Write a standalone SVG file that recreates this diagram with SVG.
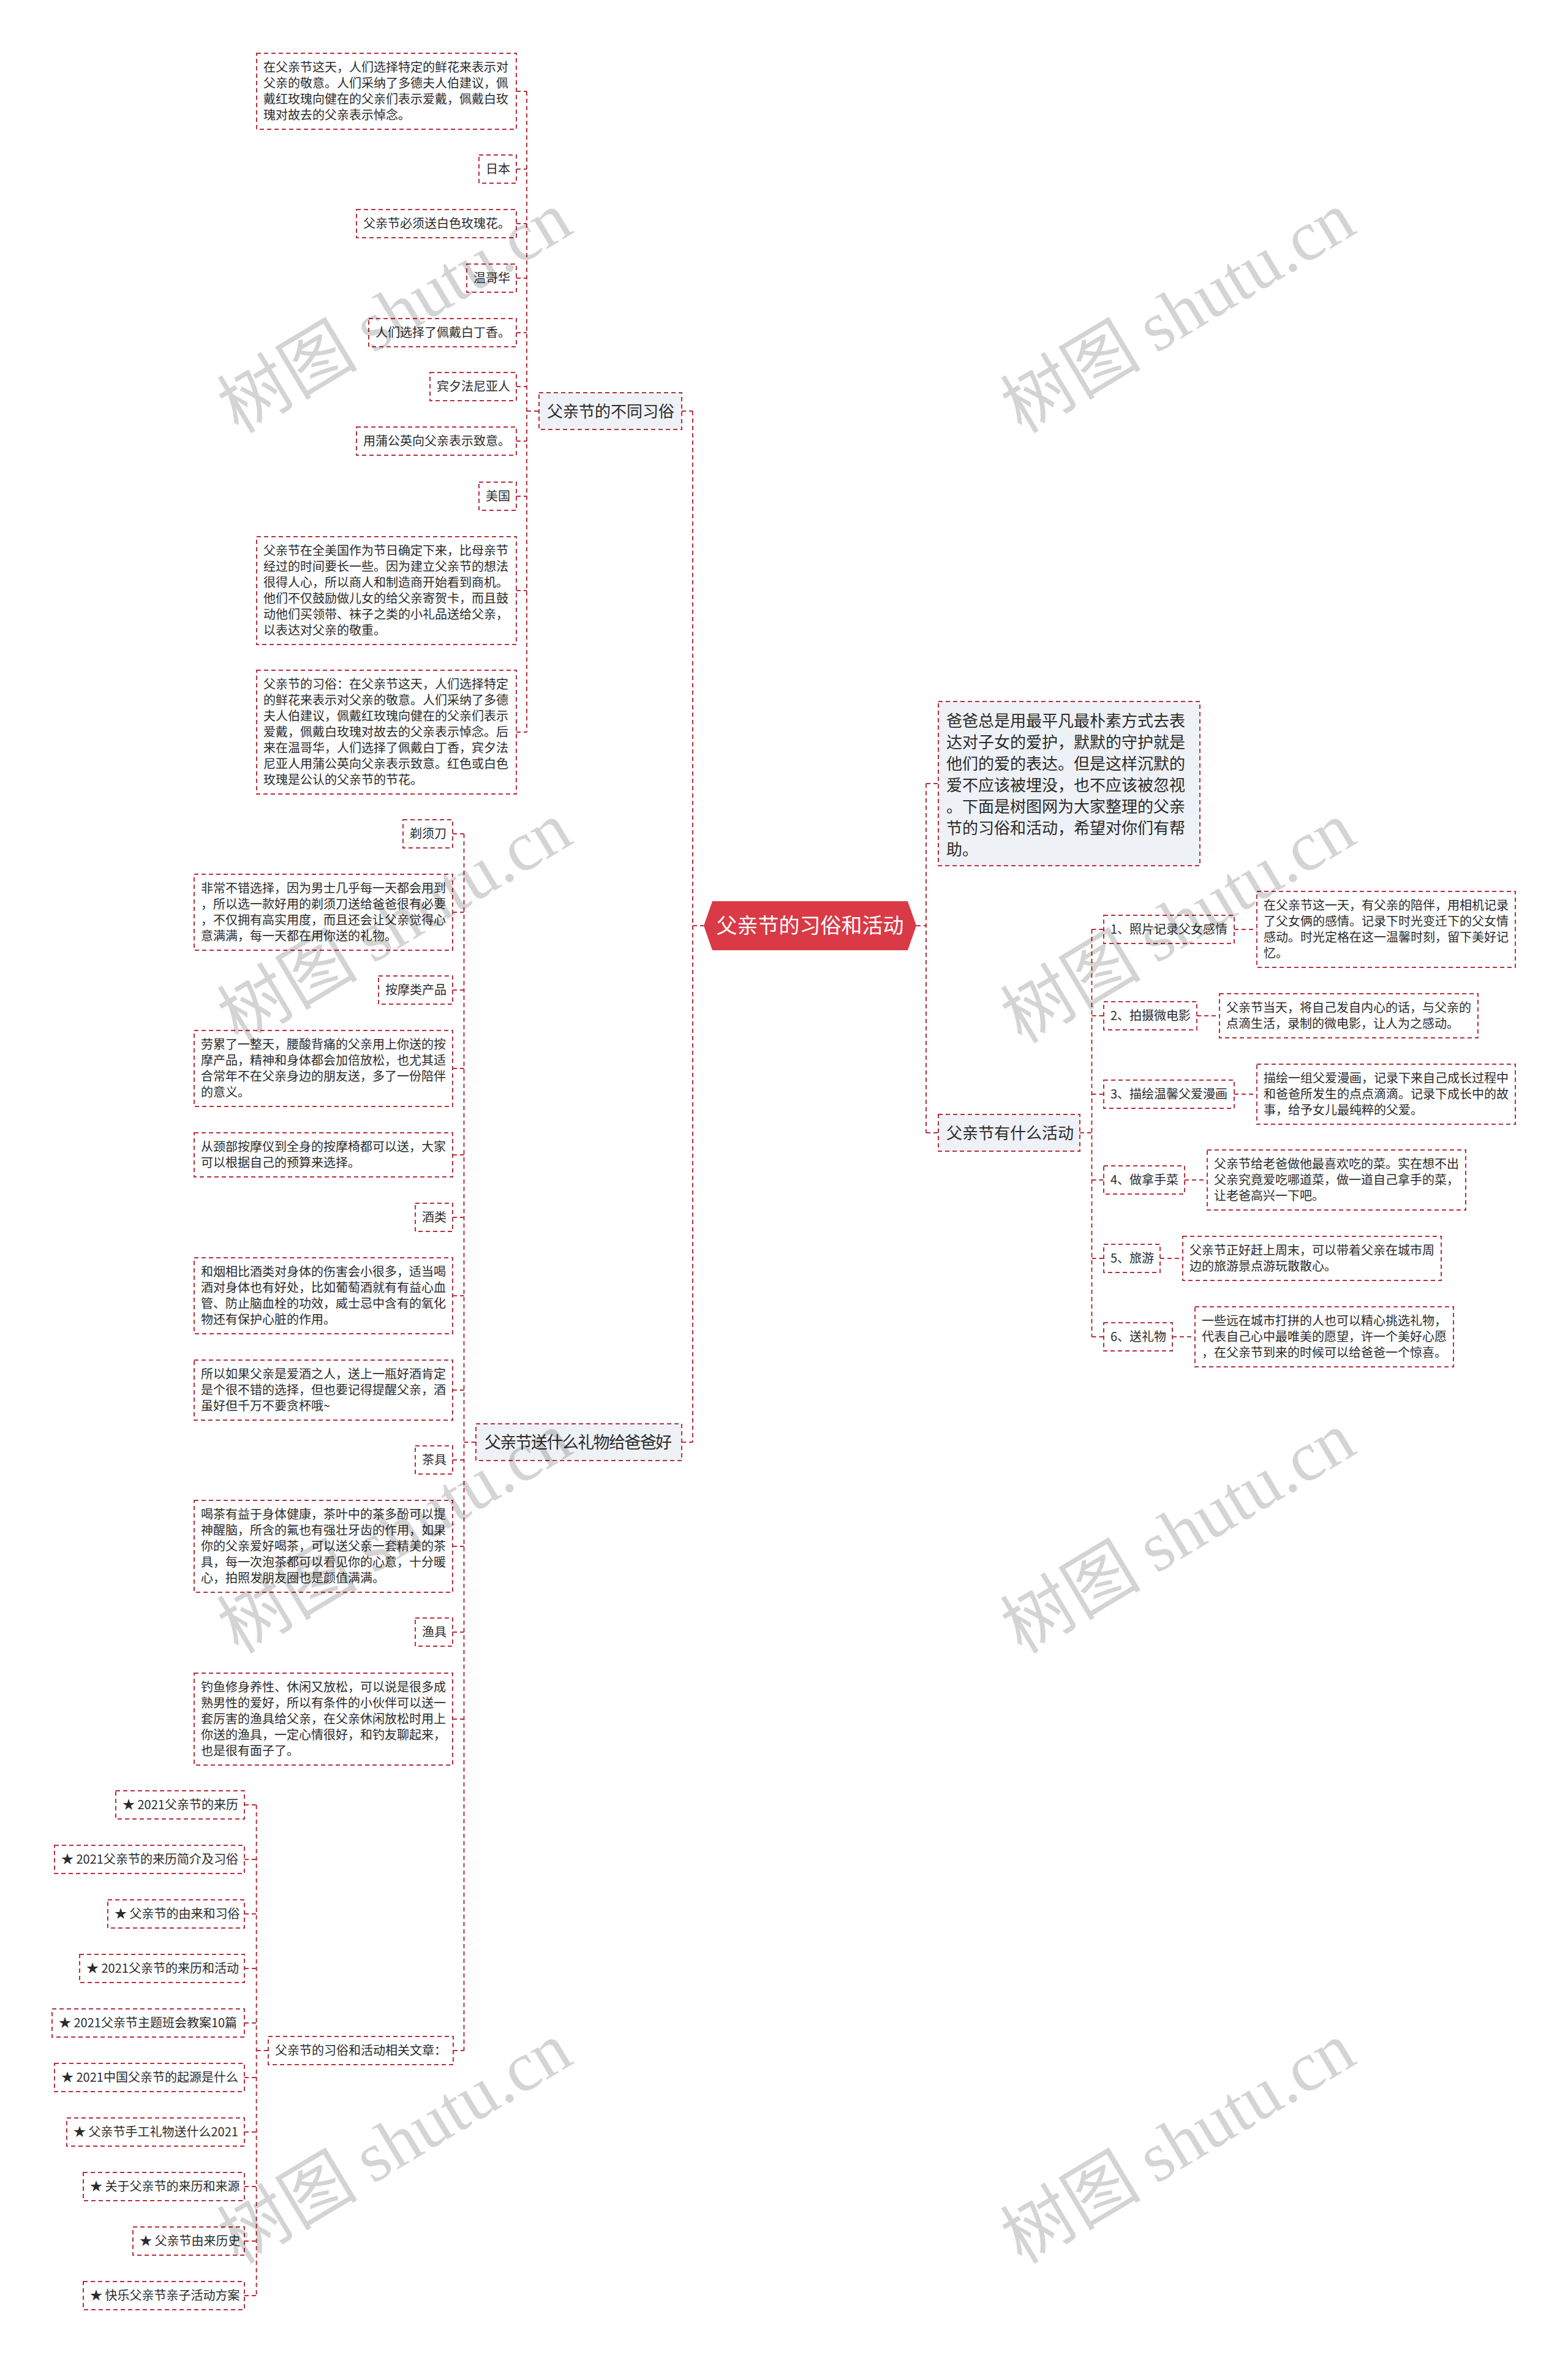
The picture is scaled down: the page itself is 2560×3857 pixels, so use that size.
<svg xmlns="http://www.w3.org/2000/svg" width="2560" height="3857" viewBox="0 0 2560 3857">
<style>
.n{fill:#fff;stroke:#b4313c;stroke-width:2;stroke-dasharray:7 5}
.b{fill:#eef1f5;stroke:#b4313c;stroke-width:2;stroke-dasharray:7 5}
.c{fill:none;stroke:#b4313c;stroke-width:2;stroke-dasharray:7 5}
text{font-family:"Noto Sans CJK SC","Noto Sans",sans-serif;fill:#2b2b2b}
.t{font-size:20px}
.bt{font-size:26px}
.wm text{fill:#000;fill-opacity:0.17;font-size:115px}
</style>
<rect width="2560" height="3857" fill="#fff"/>
<g id="connectors">
<path class="c" d="M843 149H860M843 276H860M843 365H860M843 454H860M843 543H860M843 631H860M843 720H860M843 810H860M843 964H860M843 1195H860M860 149V1195M860 671H880"/>
<path class="c" d="M739 1361H757.5M739 1489H757.5M739 1616H757.5M739 1744H757.5M739 1885H757.5M739 1987H757.5M739 2115H757.5M739 2269H757.5M739 2383H757.5M739 2524H757.5M739 2664H757.5M739 2806H757.5M740 3347H757.5M757.5 1361V3347M757.5 2354H777"/>
<path class="c" d="M399 2946H418.7M399 3035H418.7M399 3124H418.7M399 3213H418.7M399 3302H418.7M399 3391H418.7M399 3480H418.7M399 3569H418.7M399 3658H418.7M399 3747H418.7M418.7 2946V3747M418.7 3347H438"/>
<path class="c" d="M1113 671H1131M1113 2354H1131M1131 671V2354M1131 1511H1149"/>
<path class="c" d="M1496 1511H1512M1512 1279V1849M1512 1279H1532M1512 1849H1532"/>
<path class="c" d="M1763 1849H1782.5M1782.5 1517V2182M1782.5 1517H1802M1782.5 1658H1802M1782.5 1786H1802M1782.5 1926H1802M1782.5 2054H1802M1782.5 2182H1802"/>
<path class="c" d="M2015 1517H2052M1954 1658H1991M2015 1786H2052M1934 1926H1971M1894 2054H1931M1914 2182H1951"/>
</g>
<g id="root">
<polygon points="1149,1511 1163,1471 1482,1471 1496,1511 1482,1551 1163,1551" fill="#d93a45"/>
<text x="1322.5" y="1523" text-anchor="middle" style="font-size:34px;fill:#fff">父亲节的习俗和活动</text>
</g>
<g id="branch-customs">
<rect class="b" x="880" y="641" width="233" height="60"/>
<text class="bt" x="893" y="680.5">父亲节的不同习俗</text>
</g>
<g id="branch-gifts">
<rect class="b" x="777" y="2324" width="336" height="60"/>
<text x="791" y="2364" style="font-size:27px" textLength="306" lengthAdjust="spacing">父亲节送什么礼物给爸爸好</text>
</g>
<g id="intro">
<rect class="b" x="1532" y="1145" width="427" height="268"/>
<text class="bt"><tspan x="1545" y="1186">爸爸总是用最平凡最朴素方式去表</tspan><tspan x="1545" y="1221">达对子女的爱护，默默的守护就是</tspan><tspan x="1545" y="1256">他们的爱的表达。但是这样沉默的</tspan><tspan x="1545" y="1291">爱不应该被埋没，也不应该被忽视</tspan><tspan x="1545" y="1326">。下面是树图网为大家整理的父亲</tspan><tspan x="1545" y="1361">节的习俗和活动，希望对你们有帮</tspan><tspan x="1545" y="1396">助。</tspan></text>
</g>
<g id="branch-activities">
<rect class="b" x="1532" y="1819" width="231" height="60"/>
<text class="bt" x="1545" y="1858.5">父亲节有什么活动</text>
</g>
<g id="c-a1"><rect class="n" x="419" y="87" width="424" height="124"/>
<text class="t"><tspan x="430" y="117">在父亲节这天，人们选择特定的鲜花来表示对</tspan><tspan x="430" y="143">父亲的敬意。人们采纳了多德夫人伯建议，佩</tspan><tspan x="430" y="169">戴红玫瑰向健在的父亲们表示爱戴，佩戴白玫</tspan><tspan x="430" y="195">瑰对故去的父亲表示悼念。</tspan></text></g>
<g id="c-japan"><rect class="n" x="782" y="253" width="61" height="46"/><text class="t" x="793" y="283">日本</text></g>
<g id="c-rose"><rect class="n" x="582" y="342" width="261" height="46"/><text class="t" x="593" y="372">父亲节必须送白色玫瑰花。</text></g>
<g id="c-van"><rect class="n" x="762" y="431" width="81" height="46"/><text class="t" x="773" y="461">温哥华</text></g>
<g id="c-lilac"><rect class="n" x="602" y="520" width="241" height="46"/><text class="t" x="613" y="550">人们选择了佩戴白丁香。</text></g>
<g id="c-penn"><rect class="n" x="702" y="608" width="141" height="46"/><text class="t" x="713" y="638">宾夕法尼亚人</text></g>
<g id="c-dand"><rect class="n" x="582" y="697" width="261" height="46"/><text class="t" x="593" y="727">用蒲公英向父亲表示致意。</text></g>
<g id="c-usa"><rect class="n" x="782" y="787" width="61" height="46"/><text class="t" x="793" y="817">美国</text></g>
<g id="c-a2"><rect class="n" x="419" y="876" width="424" height="176"/>
<text class="t"><tspan x="430" y="906">父亲节在全美国作为节日确定下来，比母亲节</tspan><tspan x="430" y="932">经过的时间要长一些。因为建立父亲节的想法</tspan><tspan x="430" y="958">很得人心，所以商人和制造商开始看到商机。</tspan><tspan x="430" y="984">他们不仅鼓励做儿女的给父亲寄贺卡，而且鼓</tspan><tspan x="430" y="1010">动他们买领带、袜子之类的小礼品送给父亲，</tspan><tspan x="430" y="1036">以表达对父亲的敬重。</tspan></text></g>
<g id="c-a3"><rect class="n" x="419" y="1094" width="424" height="202"/>
<text class="t"><tspan x="430" y="1124">父亲节的习俗：在父亲节这天，人们选择特定</tspan><tspan x="430" y="1150">的鲜花来表示对父亲的敬意。人们采纳了多德</tspan><tspan x="430" y="1176">夫人伯建议，佩戴红玫瑰向健在的父亲们表示</tspan><tspan x="430" y="1202">爱戴，佩戴白玫瑰对故去的父亲表示悼念。后</tspan><tspan x="430" y="1228">来在温哥华，人们选择了佩戴白丁香，宾夕法</tspan><tspan x="430" y="1254">尼亚人用蒲公英向父亲表示致意。红色或白色</tspan><tspan x="430" y="1280">玫瑰是公认的父亲节的节花。</tspan></text></g>
<g id="g-razor"><rect class="n" x="658" y="1338" width="81" height="46"/><text class="t" x="669" y="1368">剃须刀</text></g>
<g id="g-b1"><rect class="n" x="317" y="1427" width="422" height="124"/>
<text class="t"><tspan x="328" y="1457">非常不错选择，因为男士几乎每一天都会用到</tspan><tspan x="328" y="1483">，所以选一款好用的剃须刀送给爸爸很有必要</tspan><tspan x="328" y="1509">，不仅拥有高实用度，而且还会让父亲觉得心</tspan><tspan x="328" y="1535">意满满，每一天都在用你送的礼物。</tspan></text></g>
<g id="g-massage"><rect class="n" x="618" y="1593" width="121" height="46"/><text class="t" x="629" y="1623">按摩类产品</text></g>
<g id="g-b2"><rect class="n" x="317" y="1682" width="422" height="124"/>
<text class="t"><tspan x="328" y="1712">劳累了一整天，腰酸背痛的父亲用上你送的按</tspan><tspan x="328" y="1738">摩产品，精神和身体都会加倍放松，也尤其适</tspan><tspan x="328" y="1764">合常年不在父亲身边的朋友送，多了一份陪伴</tspan><tspan x="328" y="1790">的意义。</tspan></text></g>
<g id="g-b3"><rect class="n" x="317" y="1849" width="422" height="72"/>
<text class="t"><tspan x="328" y="1879">从颈部按摩仪到全身的按摩椅都可以送，大家</tspan><tspan x="328" y="1905">可以根据自己的预算来选择。</tspan></text></g>
<g id="g-wine"><rect class="n" x="678" y="1964" width="61" height="46"/><text class="t" x="689" y="1994">酒类</text></g>
<g id="g-b4"><rect class="n" x="317" y="2053" width="422" height="124"/>
<text class="t"><tspan x="328" y="2083">和烟相比酒类对身体的伤害会小很多，适当喝</tspan><tspan x="328" y="2109">酒对身体也有好处，比如葡萄酒就有有益心血</tspan><tspan x="328" y="2135">管、防止脑血栓的功效，威士忌中含有的氧化</tspan><tspan x="328" y="2161">物还有保护心脏的作用。</tspan></text></g>
<g id="g-b5"><rect class="n" x="317" y="2220" width="422" height="98"/>
<text class="t"><tspan x="328" y="2250">所以如果父亲是爱酒之人，送上一瓶好酒肯定</tspan><tspan x="328" y="2276">是个很不错的选择，但也要记得提醒父亲，酒</tspan><tspan x="328" y="2302">虽好但千万不要贪杯哦~</tspan></text></g>
<g id="g-tea"><rect class="n" x="678" y="2360" width="61" height="46"/><text class="t" x="689" y="2390">茶具</text></g>
<g id="g-b6"><rect class="n" x="317" y="2449" width="422" height="150"/>
<text class="t"><tspan x="328" y="2479">喝茶有益于身体健康，茶叶中的茶多酚可以提</tspan><tspan x="328" y="2505">神醒脑，所含的氟也有强壮牙齿的作用，如果</tspan><tspan x="328" y="2531">你的父亲爱好喝茶，可以送父亲一套精美的茶</tspan><tspan x="328" y="2557">具，每一次泡茶都可以看见你的心意，十分暖</tspan><tspan x="328" y="2583">心，拍照发朋友圈也是颜值满满。</tspan></text></g>
<g id="g-fish"><rect class="n" x="678" y="2641" width="61" height="46"/><text class="t" x="689" y="2671">渔具</text></g>
<g id="g-b7"><rect class="n" x="317" y="2731" width="422" height="150"/>
<text class="t"><tspan x="328" y="2761">钓鱼修身养性、休闲又放松，可以说是很多成</tspan><tspan x="328" y="2787">熟男性的爱好，所以有条件的小伙伴可以送一</tspan><tspan x="328" y="2813">套厉害的渔具给父亲，在父亲休闲放松时用上</tspan><tspan x="328" y="2839">你送的渔具，一定心情很好，和钓友聊起来，</tspan><tspan x="328" y="2865">也是很有面子了。</tspan></text></g>
<g id="g-related"><rect class="n" x="438" y="3324" width="302" height="46"/><text class="t" x="449" y="3354">父亲节的习俗和活动相关文章：</text></g>
<g id="r1"><rect class="n" x="189" y="2923" width="210" height="46"/><text class="t" x="200" y="2953">★ 2021父亲节的来历</text></g>
<g id="r2"><rect class="n" x="89" y="3012" width="310" height="46"/><text class="t" x="100" y="3042">★ 2021父亲节的来历简介及习俗</text></g>
<g id="r3"><rect class="n" x="176" y="3101" width="223" height="46"/><text class="t" x="187" y="3131">★ 父亲节的由来和习俗</text></g>
<g id="r4"><rect class="n" x="130" y="3190" width="269" height="46"/><text class="t" x="141" y="3220">★ 2021父亲节的来历和活动</text></g>
<g id="r5"><rect class="n" x="85" y="3279" width="314" height="46"/><text class="t" x="96" y="3309">★ 2021父亲节主题班会教案10篇</text></g>
<g id="r6"><rect class="n" x="89" y="3368" width="310" height="46"/><text class="t" x="100" y="3398">★ 2021中国父亲节的起源是什么</text></g>
<g id="r7"><rect class="n" x="109" y="3457" width="290" height="46"/><text class="t" x="120" y="3487">★ 父亲节手工礼物送什么2021</text></g>
<g id="r8"><rect class="n" x="136" y="3546" width="263" height="46"/><text class="t" x="147" y="3576">★ 关于父亲节的来历和来源</text></g>
<g id="r9"><rect class="n" x="217" y="3635" width="182" height="46"/><text class="t" x="228" y="3665">★ 父亲节由来历史</text></g>
<g id="r10"><rect class="n" x="136" y="3724" width="263" height="46"/><text class="t" x="147" y="3754">★ 快乐父亲节亲子活动方案</text></g>
<g id="act1"><rect class="n" x="1802" y="1494" width="213" height="46"/><text class="t" x="1813" y="1524">1、照片记录父女感情</text></g>
<g id="act2"><rect class="n" x="1802" y="1635" width="152" height="46"/><text class="t" x="1813" y="1665">2、拍摄微电影</text></g>
<g id="act3"><rect class="n" x="1802" y="1763" width="213" height="46"/><text class="t" x="1813" y="1793">3、描绘温馨父爱漫画</text></g>
<g id="act4"><rect class="n" x="1802" y="1903" width="132" height="46"/><text class="t" x="1813" y="1933">4、做拿手菜</text></g>
<g id="act5"><rect class="n" x="1802" y="2031" width="92" height="46"/><text class="t" x="1813" y="2061">5、旅游</text></g>
<g id="act6"><rect class="n" x="1802" y="2159" width="112" height="46"/><text class="t" x="1813" y="2189">6、送礼物</text></g>
<g id="d1"><rect class="n" x="2052" y="1455" width="422" height="124"/>
<text class="t"><tspan x="2063" y="1485">在父亲节这一天，有父亲的陪伴，用相机记录</tspan><tspan x="2063" y="1511">了父女俩的感情。记录下时光变迁下的父女情</tspan><tspan x="2063" y="1537">感动。时光定格在这一温馨时刻，留下美好记</tspan><tspan x="2063" y="1563">忆。</tspan></text></g>
<g id="d2"><rect class="n" x="1991" y="1622" width="422" height="72"/>
<text class="t"><tspan x="2002" y="1652">父亲节当天，将自己发自内心的话，与父亲的</tspan><tspan x="2002" y="1678">点滴生活，录制的微电影，让人为之感动。</tspan></text></g>
<g id="d3"><rect class="n" x="2052" y="1737" width="422" height="98"/>
<text class="t"><tspan x="2063" y="1767">描绘一组父爱漫画，记录下来自己成长过程中</tspan><tspan x="2063" y="1793">和爸爸所发生的点点滴滴。记录下成长中的故</tspan><tspan x="2063" y="1819">事，给予女儿最纯粹的父爱。</tspan></text></g>
<g id="d4"><rect class="n" x="1971" y="1877" width="422" height="98"/>
<text class="t"><tspan x="1982" y="1907">父亲节给老爸做他最喜欢吃的菜。实在想不出</tspan><tspan x="1982" y="1933">父亲究竟爱吃哪道菜，做一道自己拿手的菜，</tspan><tspan x="1982" y="1959">让老爸高兴一下吧。</tspan></text></g>
<g id="d5"><rect class="n" x="1931" y="2018" width="422" height="72"/>
<text class="t"><tspan x="1942" y="2048">父亲节正好赶上周末，可以带着父亲在城市周</tspan><tspan x="1942" y="2074">边的旅游景点游玩散散心。</tspan></text></g>
<g id="d6"><rect class="n" x="1951" y="2133" width="422" height="98"/>
<text class="t"><tspan x="1962" y="2163">一些远在城市打拼的人也可以精心挑选礼物，</tspan><tspan x="1962" y="2189">代表自己心中最唯美的愿望，许一个美好心愿</tspan><tspan x="1962" y="2215">，在父亲节到来的时候可以给爸爸一个惊喜。</tspan></text></g>
<g id="watermarks" class="wm">
<g transform="translate(645,511) rotate(-31)"><text x="0" y="38" text-anchor="middle">树图 <tspan style="font-family:'Liberation Serif',serif">shutu.cn</tspan></text></g>
<g transform="translate(1924,511) rotate(-31)"><text x="0" y="38" text-anchor="middle">树图 <tspan style="font-family:'Liberation Serif',serif">shutu.cn</tspan></text></g>
<g transform="translate(645,1507) rotate(-31)"><text x="0" y="38" text-anchor="middle">树图 <tspan style="font-family:'Liberation Serif',serif">shutu.cn</tspan></text></g>
<g transform="translate(1924,1507) rotate(-31)"><text x="0" y="38" text-anchor="middle">树图 <tspan style="font-family:'Liberation Serif',serif">shutu.cn</tspan></text></g>
<g transform="translate(645,2503) rotate(-31)"><text x="0" y="38" text-anchor="middle">树图 <tspan style="font-family:'Liberation Serif',serif">shutu.cn</tspan></text></g>
<g transform="translate(1924,2503) rotate(-31)"><text x="0" y="38" text-anchor="middle">树图 <tspan style="font-family:'Liberation Serif',serif">shutu.cn</tspan></text></g>
<g transform="translate(645,3499) rotate(-31)"><text x="0" y="38" text-anchor="middle">树图 <tspan style="font-family:'Liberation Serif',serif">shutu.cn</tspan></text></g>
<g transform="translate(1924,3499) rotate(-31)"><text x="0" y="38" text-anchor="middle">树图 <tspan style="font-family:'Liberation Serif',serif">shutu.cn</tspan></text></g>
</g>
</svg>
